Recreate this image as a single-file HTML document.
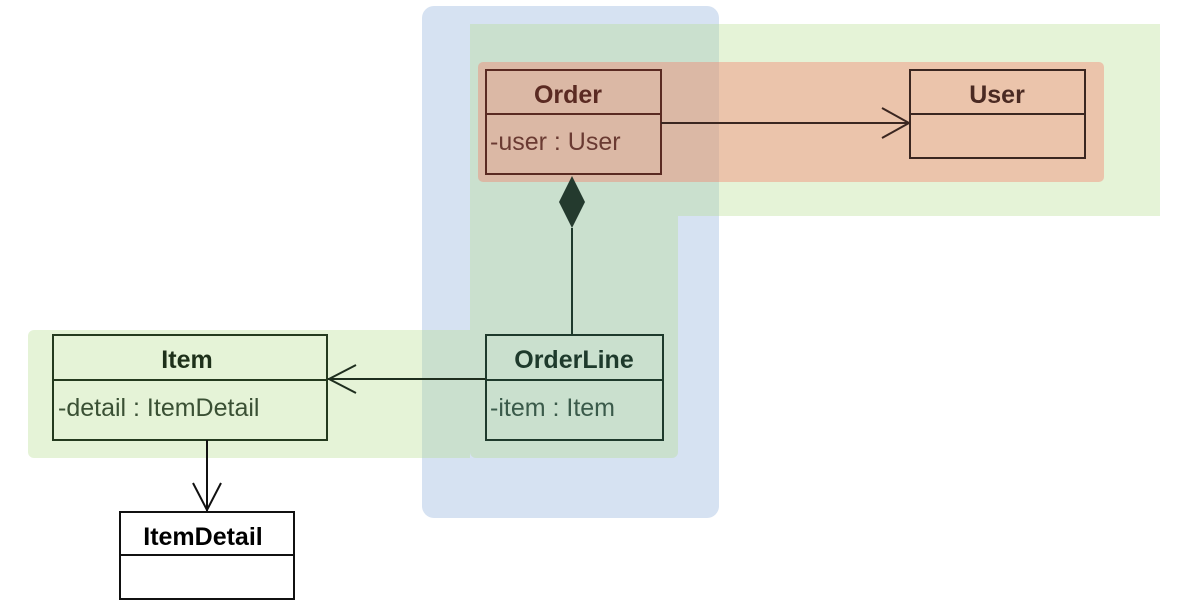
<!DOCTYPE html>
<html><head><meta charset="utf-8"><style>
html,body{margin:0;padding:0;background:#fff;}
svg{display:block;font-family:"Liberation Sans","DejaVu Sans",sans-serif;}
</style></head><body>
<svg width="1188" height="613" viewBox="0 0 1188 613" xmlns="http://www.w3.org/2000/svg">
<rect x="0" y="0" width="1188" height="613" fill="#fff"/>
<!-- blue region -->
<rect x="422" y="6" width="297" height="512" rx="12" fill="#d6e2f2"/>
<!-- green regions -->
<g fill="rgb(180,220,140)" fill-opacity="0.35">
<rect x="470" y="24" width="690" height="192"/>
<path d="M470 216 H678 V452 a6 6 0 0 1 -6 6 H476 a6 6 0 0 1 -6 -6 Z"/>
<path d="M34 330 H470 V458 H34 a6 6 0 0 1 -6 -6 V336 a6 6 0 0 1 6 -6 Z"/>
</g>
<!-- red region -->
<rect x="478" y="62" width="626" height="120" rx="5" fill="rgb(245,125,105)" fill-opacity="0.4"/>

<g fill="none" stroke="#2a2a2a" stroke-width="2">
<!-- Order -->
<rect x="486" y="70" width="175" height="104" stroke="#5a2a22"/>
<line x1="486" y1="114" x2="661" y2="114" stroke="#5a2a22"/>
<!-- User -->
<rect x="910" y="70" width="175" height="88" stroke="#3a2620"/>
<line x1="910" y1="114" x2="1085" y2="114" stroke="#3a2620"/>
<!-- Item -->
<rect x="53" y="335" width="274" height="105" stroke="#243a1e"/>
<line x1="53" y1="380" x2="327" y2="380" stroke="#243a1e"/>
<!-- OrderLine -->
<rect x="486" y="335" width="177" height="105" stroke="#1e3a2c"/>
<line x1="486" y1="380" x2="663" y2="380" stroke="#1e3a2c"/>
<!-- ItemDetail -->
<rect x="120" y="512" width="174" height="87" stroke="#111"/>
<line x1="120" y1="555" x2="294" y2="555" stroke="#111"/>

<!-- Order -> User -->
<line x1="661" y1="123" x2="909" y2="123" stroke="#3a2620"/>
<polyline points="882,108 909,123 882,138" stroke="#3a2620"/>
<!-- composition -->
<line x1="572" y1="228" x2="572" y2="335" stroke="#1e3a2c"/>
<!-- OrderLine -> Item -->
<line x1="485" y1="379" x2="328" y2="379" stroke="#1e2e1e"/>
<polyline points="356,365 329,379 356,393" stroke="#1e2e1e"/>
<!-- Item -> ItemDetail -->
<line x1="207" y1="440" x2="207" y2="511" stroke="#111"/>
<polyline points="193,483 207,510 221,483" stroke="#111"/>
</g>
<polygon points="572,176 585,202 572,228 559,202" fill="#243a2e"/>

<g font-size="25" text-anchor="middle" font-weight="bold">
<text x="568" y="103" fill="#5a2a22">Order</text>
<text x="997" y="103" fill="#4a2a22">User</text>
<text x="187" y="368" fill="#1e301a">Item</text>
<text x="574" y="368" fill="#1e3a2c">OrderLine</text>
<text x="203" y="545" fill="#000">ItemDetail</text>
</g>
<g font-size="25">
<text x="490" y="150" fill="#6a3a32">-user : User</text>
<text x="58" y="416" fill="#3a5034">-detail : ItemDetail</text>
<text x="490" y="416" fill="#3a5a4a">-item : Item</text>
</g>
</svg>
</body></html>
